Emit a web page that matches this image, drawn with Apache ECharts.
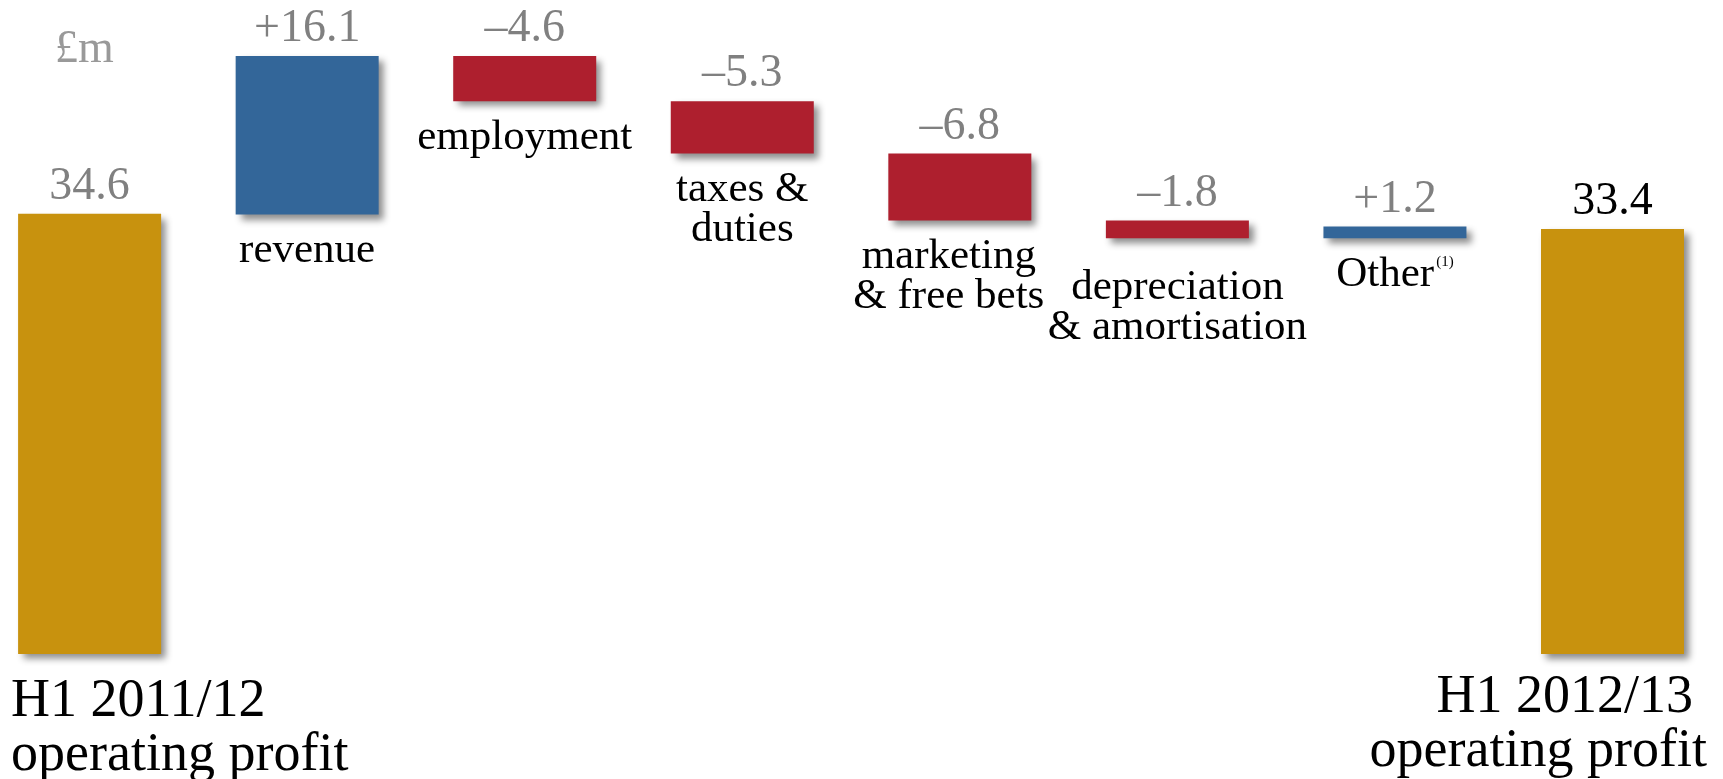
<!DOCTYPE html>
<html><head><meta charset="utf-8">
<script src="https://cdn.jsdelivr.net/npm/echarts@6/dist/echarts.min.js"></script>
<style>html,body{margin:0;padding:0;background:#fff}#c{width:1723px;height:779px}</style>
</head><body><div id="c"></div>
<script>
// ---- data ----
const categories = ['H1 2011/12\noperating profit', 'revenue', 'employment', 'taxes &\nduties',
  'marketing\n& free bets', 'depreciation\n& amortisation', 'Other', 'H1 2012/13\noperating profit'];
const startTotal = 34.6;
const endTotal = 33.4;
const deltas = [16.1, -4.6, -5.3, -6.8, -1.8, 1.2];
const unitLabel = '£m';

// ---- styles ----
const GOLD = '#C8920E', BLUE = '#336699', RED = '#AE1F2E', GREY = '#808080';
const FONT = "'Liberation Serif', 'Times New Roman', serif";
const SHADOW = { shadowBlur: 7, shadowOffsetX: 5, shadowOffsetY: 5, shadowColor: 'rgba(0,0,0,0.45)' };
// per-category label placement tweaks (layout only)
const nameLabelTweak = {
  'marketing\n& free bets': { offset: [-11, 0] },
  'depreciation\n& amortisation': { distance: 29 }
};

const n = categories.length;
const totalData = categories.map((c, i) =>
  i === 0 ? { value: startTotal } : i === n - 1 ? { value: endTotal, label: { color: '#000' } } : '-');
const totalNameData = categories.map((c, i) =>
  i === 0 ? { value: startTotal, label: { position: ['0%', '100%'], align: 'left', offset: [-7, 21] } } :
  i === n - 1 ? { value: endTotal, label: { position: ['100%', '100%'], align: 'right', offset: [23, 17] } } : '-');
const baseData = ['-'], deltaData = ['-'];
let run = startTotal;
deltas.forEach((d, k) => {
  const s = run, e = run + d;
  const cat = categories[k + 1];
  const v = +Math.min(s, e).toFixed(1);
  baseData.push(nameLabelTweak[cat] ? { value: v, label: nameLabelTweak[cat] } : v);
  deltaData.push(+Math.abs(d).toFixed(1));
  run = e;
});
baseData.push('-'); deltaData.push('-');

const chart = echarts.init(document.getElementById('c'), null, { renderer: 'canvas' });
chart.setOption({
  animation: false,
  backgroundColor: '#fff',
  title: { text: unitLabel, left: 50, top: 22,
    textStyle: { fontFamily: FONT, fontSize: 46, fontWeight: 'normal', color: '#999999' } },
  grid: { left: 89.6, right: 110.5, top: 56, bottom: 125, containLabel: false },
  xAxis: { type: 'category', data: categories, boundaryGap: false, show: false },
  yAxis: [
    { type: 'value', min: -10, max: 50.7, show: false },
    { type: 'value', min: 0, max: 47, show: false }
  ],
  series: [
    { name: 'total', type: 'bar', yAxisIndex: 1, barWidth: 143, barGap: '-100%', clip: false,
      data: totalData, itemStyle: Object.assign({ color: GOLD }, SHADOW),
      label: { show: true, position: 'top', distance: 4, fontFamily: FONT, fontSize: 46, color: GREY,
        formatter: p => p.value.toFixed(1) } },
    { name: 'totalName', type: 'bar', yAxisIndex: 1, barWidth: 143, barGap: '-100%', clip: false,
      data: totalNameData, itemStyle: { color: 'transparent' }, silent: true,
      label: { show: true, verticalAlign: 'top', fontFamily: FONT, fontSize: 54, lineHeight: 54, color: '#000',
        formatter: p => p.dataIndex === n - 1
          ? categories[p.dataIndex].replace('\n', '{sp| }\n')
          : categories[p.dataIndex],
        rich: { sp: { fontFamily: FONT, fontSize: 54, lineHeight: 54, width: 14 } } } },
    { name: 'base', type: 'bar', stack: 'w', yAxisIndex: 0, barWidth: 143, barGap: '-100%', clip: false,
      data: baseData, itemStyle: { color: 'transparent' },
      label: { show: true, position: 'insideTop', distance: 16, fontFamily: FONT, fontSize: 43, lineHeight: 40,
        color: '#000',
        formatter: p => categories[p.dataIndex] === 'Other' ? 'Other{sup|(1)}' : categories[p.dataIndex],
        rich: { sup: { fontFamily: FONT, fontSize: 15, verticalAlign: 'top', lineHeight: 40, padding: [0, 0, 14, 2] } } } },
    { name: 'delta', type: 'bar', stack: 'w', yAxisIndex: 0, barWidth: 143, barGap: '-100%', clip: false,
      data: deltaData,
      itemStyle: Object.assign({ color: p => deltas[p.dataIndex - 1] > 0 ? BLUE : RED }, SHADOW),
      label: { show: true, position: 'top', distance: 4, fontFamily: FONT, fontSize: 46, color: GREY,
        formatter: p => { const d = deltas[p.dataIndex - 1]; return (d > 0 ? '+' : '–') + Math.abs(d).toFixed(1); } } }
  ]
});
</script></body></html>
